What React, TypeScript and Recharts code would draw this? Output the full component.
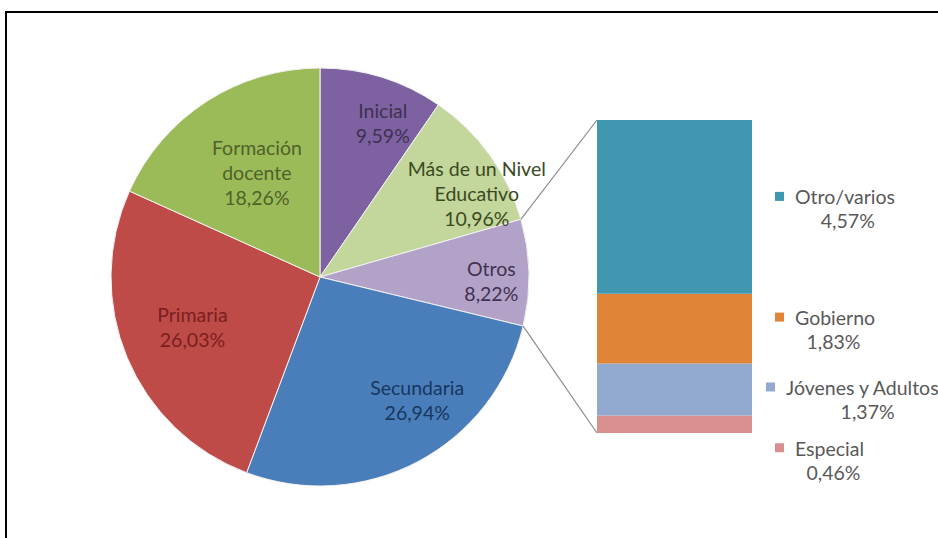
import React from "react";
import { Bar, BarChart, Cell, Pie, PieChart, XAxis, YAxis } from "recharts";

// pie slices, clockwise from 12 o'clock
const PIE_NAMES = ["Inicial", "Más de un Nivel\nEducativo", "Otros", "Secundaria", "Primaria", "Formación\ndocente"];
const PIE_VALUES = [9.59, 10.96, 8.22, 26.94, 26.03, 18.26];
const PIE_COLORS = ["#7e61a0", "#c3d69b", "#b3a2c7", "#4a7ebb", "#be4b48", "#9bbb59"];
const PIE_TEXT = ["#3f3151", "#3b4a1e", "#3f3151", "#17375e", "#7a1f1d", "#4f6228"];

// breakdown of "Otros", bottom to top
const BAR_NAMES = ["Especial", "Jóvenes y Adultos", "Gobierno", "Otro/varios"];
const BAR_VALUES = [0.46, 1.37, 1.83, 4.57];
const BAR_COLORS = ["#d98f8e", "#93aad0", "#e0843a", "#3f97b0"];

// label placement tweaks: [radius factor, angle shift]
const PIE_LABEL_NUDGE = [
  [0.8, -4.8],
  [0.85, -7.7],
  [0.82, -2.5],
  [0.75, 10.4],
  [0.655, -1.3],
  [0.585, -1.8],
];
const BAR_LABEL_DY = [36, 10, 1, 2];
const BAR_LABEL_DX = [0, -9, 0, 0];

const W = 938;
const H = 538;
const CX = 320;
const CY = 277;
const R = 209;
const BAR_LEFT = 597;
const BAR_TOP = 120;
const BAR_W = 155;
const BAR_H = 313;
const FONT = "Lato, 'Open Sans', sans-serif";
const FS = 19.5;
const RADIAN = Math.PI / 180;

const pct = (v: number) => v.toFixed(2).replace(".", ",") + "%";

const pieData = PIE_NAMES.map((name, i) => ({ name, value: PIE_VALUES[i] }));
const barRow = BAR_NAMES.reduce((row: any, name, i) => {
  row[`s${i}`] = BAR_VALUES[i];
  return row;
}, { name: "Otros" });
const barTotal = BAR_VALUES.reduce((a, b) => a + b, 0);

const renderPieLabel = (props: any) => {
  const { cx, cy, midAngle, outerRadius, index } = props;
  const [rf, da] = PIE_LABEL_NUDGE[index];
  const a = (midAngle + da) * RADIAN;
  const x = cx + outerRadius * rf * Math.cos(a);
  const y = cy - outerRadius * rf * Math.sin(a);
  const lines = [...PIE_NAMES[index].split("\n"), pct(PIE_VALUES[index])];
  const y0 = y - ((lines.length - 1) * 25) / 2;
  return (
    <text x={x} y={y0} textAnchor="middle" dominantBaseline="central" fill={PIE_TEXT[index]} fontSize={FS} fontFamily={FONT}>
      {lines.map((l, k) => (
        <tspan key={k} x={x} y={y0 + k * 25}>
          {l}
        </tspan>
      ))}
    </text>
  );
};

const makeBarLabel = (i: number) => (props: any) => {
  const { x, y, width, height } = props;
  const mid = Number(y) + Number(height) / 2 + BAR_LABEL_DY[i];
  const sq = Number(x) + Number(width) + 23 + BAR_LABEL_DX[i];
  const tx = sq + 20;
  const nameW = BAR_NAMES[i].length * 9.6;
  return (
    <g>
      <rect x={sq} y={mid - 17} width={9} height={9} fill={BAR_COLORS[i]} />
      <text x={tx} y={mid - 12} dominantBaseline="central" fill="#595959" fontSize={FS} fontFamily={FONT}>
        {BAR_NAMES[i]}
      </text>
      <text x={tx + nameW / 2} y={mid + 12} textAnchor="middle" dominantBaseline="central" fill="#595959" fontSize={FS} fontFamily={FONT}>
        {pct(BAR_VALUES[i])}
      </text>
    </g>
  );
};

function polar(angleFromTop: number) {
  const a = angleFromTop * RADIAN;
  return { x: CX + R * Math.sin(a), y: CY - R * Math.cos(a) };
}

export default function App() {
  const total = PIE_VALUES.reduce((a, b) => a + b, 0);
  const before = ((PIE_VALUES[0] + PIE_VALUES[1]) / total) * 360;
  const after = before + (PIE_VALUES[2] / total) * 360;
  const p1 = polar(before);
  const p2 = polar(after);

  return (
    <div style={{ position: "relative", width: W, height: H, overflow: "hidden", background: "#fff" }}>
      <style>{"body{margin:0}"}</style>
      <div style={{ position: "absolute", left: 5, top: 11, width: 980, height: 560, border: "2px solid #000", boxSizing: "border-box" }} />
      <div style={{ position: "absolute", left: 0, top: 0 }}>
        <PieChart width={W} height={H} margin={{ top: 0, right: 0, bottom: 0, left: 0 }}>
          <Pie
            data={pieData}
            dataKey="value"
            cx={CX}
            cy={CY}
            outerRadius={R}
            startAngle={90}
            endAngle={-270}
            stroke="#f2f2f2"
            strokeWidth={1}
            label={renderPieLabel}
            labelLine={false}
            isAnimationActive={false}
          >
            {pieData.map((_, i) => (
              <Cell key={i} fill={PIE_COLORS[i]} />
            ))}
          </Pie>
        </PieChart>
      </div>
      <svg width={W} height={H} style={{ position: "absolute", left: 0, top: 0, pointerEvents: "none" }}>
        <line x1={p1.x} y1={p1.y} x2={BAR_LEFT} y2={BAR_TOP} stroke="#8c8c8c" strokeWidth={1.2} />
        <line x1={p2.x} y1={p2.y} x2={BAR_LEFT} y2={BAR_TOP + BAR_H} stroke="#8c8c8c" strokeWidth={1.2} />
      </svg>
      <div style={{ position: "absolute", left: BAR_LEFT, top: BAR_TOP }}>
        <BarChart
          width={BAR_W + 200}
          height={BAR_H + 70}
          data={[barRow]}
          margin={{ top: 0, right: 200, bottom: 70, left: 0 }}
          barCategoryGap={0}
          style={{ overflow: "visible" }}
        >
          <XAxis dataKey="name" hide />
          <YAxis hide domain={[0, barTotal]} />
          {BAR_NAMES.map((n, i) => (
            <Bar key={n} dataKey={`s${i}`} stackId="a" fill={BAR_COLORS[i]} label={makeBarLabel(i)} isAnimationActive={false} />
          ))}
        </BarChart>
      </div>
    </div>
  );
}
